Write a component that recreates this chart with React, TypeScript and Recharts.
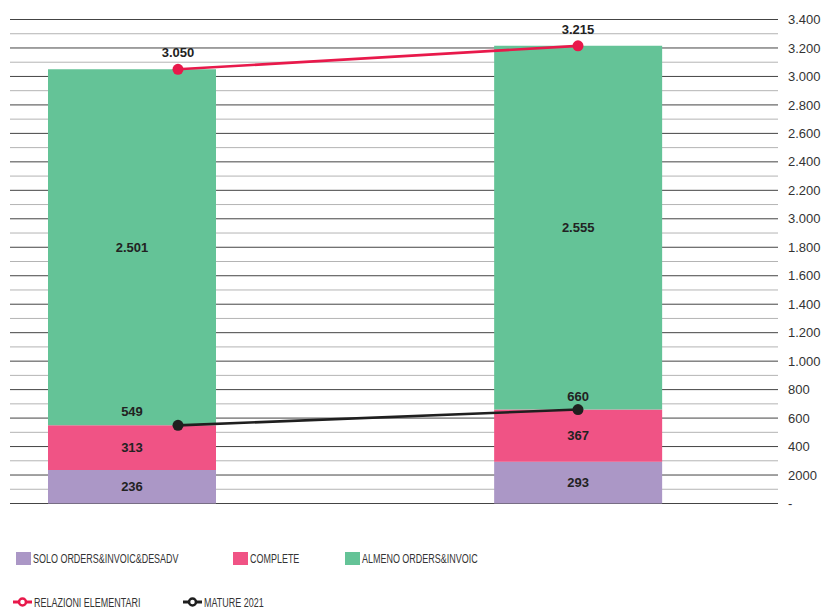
import React from 'react';
import {
  ComposedChart,
  Bar,
  Line,
  XAxis,
  YAxis,
  CartesianGrid,
  LabelList,
} from 'recharts';

// Two reporting periods (not shown on the axis)
const categories = ['Periodo A', 'Periodo B'];

// Stacked bar series
const soloOrdersInvoicDesadv = [236, 293];
const complete = [313, 367];
const almenoOrdersInvoic = [2501, 2555];

// Line series
const relazioniElementari = [3050, 3215];
const mature2021 = [549, 660];

// Right-hand axis: major ticks and their printed labels
const yTickValues = [0, 200, 400, 600, 800, 1000, 1200, 1400, 1600, 1800, 2000, 2200, 2400, 2600, 2800, 3000, 3200, 3400];
const yTickLabels = ['-', '2000', '400', '600', '800', '1.000', '1.200', '1.400', '1.600', '1.800', '3.000', '2.200', '2.400', '2.600', '2.800', '3.000', '3.200', '3.400'];
// Lighter intermediate grid lines
const yMinorValues = [100, 300, 500, 700, 900, 1100, 1300, 1500, 1700, 1900, 2100, 2300, 2500, 2700, 2900, 3100, 3300];

const Y_DOMAIN: [number, number] = [0, 3400];
const yAllValues = [...yTickValues, ...yMinorValues].sort((a, b) => a - b);

const COLORS = {
  solo: '#ab97c6',
  complete: '#f05385',
  almeno: '#64c397',
  relazioni: '#e8194b',
  mature: '#1f1f1f',
  gridMajor: '#444',
  gridMinor: '#b4b4b4',
};

const FONT = "'Liberation Sans', Arial, sans-serif";

const data = categories.map((cat, i) => ({
  cat,
  solo: soloOrdersInvoicDesadv[i],
  complete: complete[i],
  almeno: almenoOrdersInvoic[i],
  relazioni: relazioniElementari[i],
  mature: mature2021[i],
}));

const fmt = (v: number | string) =>
  String(v).replace(/\B(?=(\d{3})+(?!\d))/g, '.');

// Only major ticks carry a printed label
const tickLabel = (v: number) => {
  const idx = yTickValues.indexOf(v);
  return idx >= 0 ? yTickLabels[idx] : '';
};

// Grid rows alternate major / minor (every 100, starting with a major at 0)
const GridRow = (props: any) => {
  const { x1, x2, y1, y2, index } = props;
  const minor = index % 2 === 1;
  return (
    <line
      key={`grid-row-${index}`}
      x1={x1}
      x2={x2}
      y1={y1}
      y2={y2}
      stroke={minor ? COLORS.gridMinor : COLORS.gridMajor}
      strokeWidth={1}
      fill="none"
    />
  );
};

const valueLabelStyle = {
  fill: '#222',
  fontSize: 13,
  fontWeight: 700,
  fontFamily: FONT,
};

type LegendItem = { label: string; color: string; kind: 'rect' | 'line'; x: number; row: number };

const legendItems: LegendItem[] = [
  { label: 'SOLO ORDERS&INVOIC&DESADV', color: COLORS.solo, kind: 'rect', x: 16, row: 0 },
  { label: 'COMPLETE', color: COLORS.complete, kind: 'rect', x: 233, row: 0 },
  { label: 'ALMENO ORDERS&INVOIC', color: COLORS.almeno, kind: 'rect', x: 345, row: 0 },
  { label: 'RELAZIONI ELEMENTARI', color: COLORS.relazioni, kind: 'line', x: 13, row: 1 },
  { label: 'MATURE 2021', color: COLORS.mature, kind: 'line', x: 183, row: 1 },
];

const legendRowY = [558.5, 602];

function ChartLegend() {
  return (
    <svg
      width={824}
      height={608}
      style={{ position: 'absolute', left: 0, top: 0, pointerEvents: 'none' }}
    >
      {legendItems.map((it) => {
        const cy = legendRowY[it.row];
        const textX = it.kind === 'rect' ? it.x + 17 : it.x + 21;
        return (
          <g key={it.label}>
            {it.kind === 'rect' ? (
              <rect x={it.x} y={cy - 6.5} width={15} height={13} fill={it.color} />
            ) : (
              <g>
                <line x1={it.x} x2={it.x + 19} y1={cy} y2={cy} stroke={it.color} strokeWidth={3} />
                <circle cx={it.x + 9.5} cy={cy} r={3.5} fill="#fff" stroke={it.color} strokeWidth={2.5} />
              </g>
            )}
            <text
              transform={`translate(${textX}, ${cy + 4.8}) scale(0.665, 1)`}
              fontSize={13.5}
              fontFamily={FONT}
              fill="#333"
            >
              {it.label}
            </text>
          </g>
        );
      })}
    </svg>
  );
}

export default function App() {
  return (
    <div style={{ position: 'absolute', left: 0, top: 0, width: 824, height: 608, background: '#fff' }}>
      <ComposedChart
        width={824}
        height={608}
        data={data}
        margin={{ top: 19.5, right: 0, bottom: 104.5, left: 10 }}
      >
        <CartesianGrid
          vertical={false}
          stroke={COLORS.gridMajor}
          horizontal={(p: any) => <GridRow {...p} />}
        />
        <XAxis
          xAxisId="bars"
          dataKey="cat"
          hide
          padding={{ left: -101, right: -23.3 }}
        />
        <XAxis
          xAxisId="lines"
          dataKey="cat"
          hide
          scale="point"
          padding={{ left: 168, right: 200 }}
        />
        <YAxis
          orientation="right"
          width={46}
          domain={Y_DOMAIN}
          ticks={yAllValues}
          interval={0}
          axisLine={false}
          tickLine={false}
          tickSize={0}
          tickMargin={10}
          tickFormatter={tickLabel}
          tick={{ fill: '#333', fontSize: 13, fontFamily: FONT, textAnchor: 'start' }}
        />
        <Bar xAxisId="bars" dataKey="solo" stackId="s" fill={COLORS.solo} barSize={168} isAnimationActive={false}>
          <LabelList dataKey="solo" position="center" formatter={fmt} style={valueLabelStyle} />
        </Bar>
        <Bar xAxisId="bars" dataKey="complete" stackId="s" fill={COLORS.complete} barSize={168} isAnimationActive={false}>
          <LabelList dataKey="complete" position="center" formatter={fmt} style={valueLabelStyle} />
          <LabelList dataKey="mature" position="top" offset={9} formatter={fmt} style={valueLabelStyle} />
        </Bar>
        <Bar xAxisId="bars" dataKey="almeno" stackId="s" fill={COLORS.almeno} barSize={168} isAnimationActive={false}>
          <LabelList dataKey="almeno" position="center" formatter={fmt} style={valueLabelStyle} />
        </Bar>
        <Line
          xAxisId="lines"
          dataKey="relazioni"
          stroke={COLORS.relazioni}
          strokeWidth={2.6}
          dot={{ r: 5.5, fill: COLORS.relazioni, stroke: COLORS.relazioni, strokeWidth: 0 }}
          activeDot={false}
          isAnimationActive={false}
        >
          <LabelList dataKey="relazioni" position="top" offset={12} formatter={fmt} style={valueLabelStyle} />
        </Line>
        <Line
          xAxisId="lines"
          dataKey="mature"
          stroke={COLORS.mature}
          strokeWidth={2.6}
          dot={{ r: 5.5, fill: COLORS.mature, stroke: COLORS.mature, strokeWidth: 0 }}
          activeDot={false}
          isAnimationActive={false}
        />
      </ComposedChart>
      <ChartLegend />
    </div>
  );
}
